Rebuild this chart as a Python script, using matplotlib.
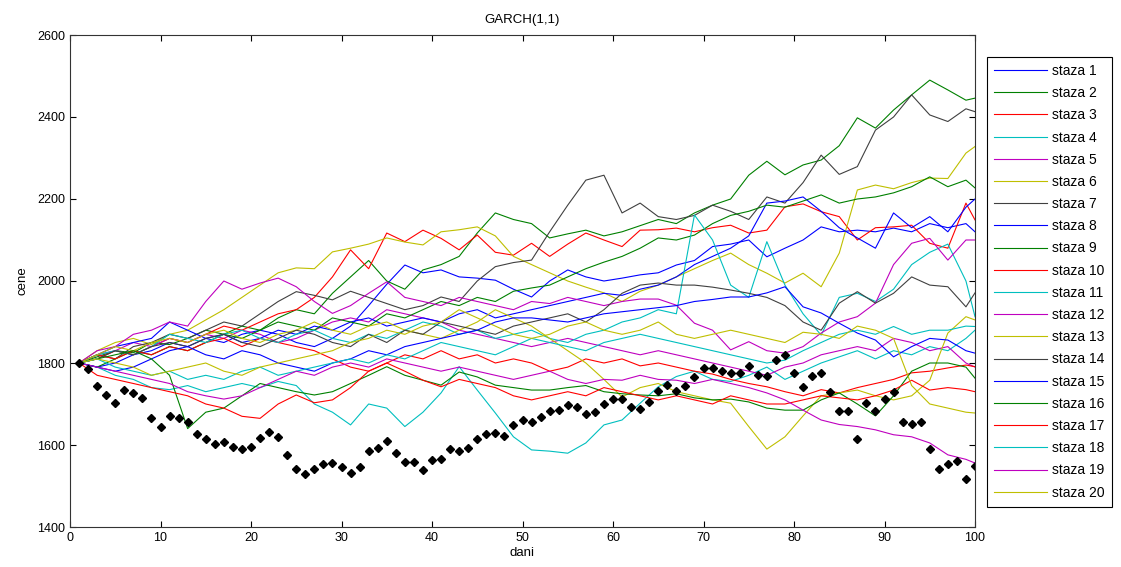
import matplotlib
matplotlib.use('Agg')
import matplotlib.pyplot as plt

plt.rcParams['font.family'] = ['Liberation Sans', 'DejaVu Sans']

# simulated paths sampled every 2 days (days 1,3,...,99,100)
days = list(range(1, 100, 2)) + [100]

staza_1 = [1800,1790,1800,1820,1830,1850,1840,1860,1850,1870,
           1880,1870,1850,1840,1860,1890,1940,1992,2039,2020,
           2027,2010,2007,2002,1980,1961,2000,2027,2010,2000,
           2007,2015,2020,2039,2050,2084,2090,2100,2059,2080,
           2100,2132,2120,2124,2120,2129,2120,2140,2130,2140,
           2120]
staza_2 = [1800,1815,1830,1825,1850,1845,1860,1880,1870,1890,
           1880,1910,1930,1920,1970,2010,2050,2000,1980,2027,
           2040,2060,2117,2166,2150,2140,2105,2115,2124,2110,
           2120,2135,2150,2140,2166,2185,2200,2258,2292,2259,
           2283,2295,2330,2398,2373,2417,2454,2490,2466,2441,
           2446]
staza_3 = [1800,1810,1830,1820,1840,1860,1850,1870,1890,1880,
           1900,1920,1930,1960,2010,2076,2030,2117,2096,2124,
           2104,2076,2112,2070,2063,2092,2060,2090,2117,2100,
           2084,2124,2125,2129,2120,2130,2136,2117,2124,2181,
           2188,2169,2157,2100,2130,2132,2136,2092,2080,2190,
           2149]
staza_4 = [1800,1790,1770,1760,1740,1735,1745,1730,1740,1750,
           1740,1755,1745,1700,1680,1649,1700,1690,1645,1680,
           1727,1791,1734,1678,1620,1588,1585,1580,1605,1649,
           1661,1702,1742,1767,1780,1760,1755,1770,1790,1760,
           1780,1800,1815,1830,1810,1830,1820,1840,1830,1860,
           1880]
staza_5 = [1800,1820,1830,1850,1840,1860,1850,1870,1860,1880,
           1870,1850,1860,1880,1900,1910,1900,1930,1920,1910,
           1900,1880,1870,1860,1850,1840,1850,1860,1850,1840,
           1830,1820,1830,1820,1810,1800,1790,1780,1770,1790,
           1800,1820,1830,1840,1830,1860,1850,1830,1840,1800,
           1790]
staza_6 = [1800,1830,1850,1860,1845,1870,1880,1905,1930,1960,
           1990,2020,2032,2030,2071,2080,2090,2105,2095,2088,
           2120,2125,2132,2110,2060,2040,2020,2000,1985,1971,
           1950,1975,1990,2010,2030,2050,2068,2040,2019,1995,
           2019,1986,2068,2222,2234,2225,2240,2251,2250,2312,
           2328]
staza_7 = [1800,1820,1810,1840,1850,1870,1860,1880,1900,1890,
           1920,1950,1974,1965,1954,1975,1960,1945,1930,1940,
           1961,1950,2000,2035,2045,2051,2120,2185,2246,2258,
           2166,2190,2157,2150,2160,2185,2170,2150,2205,2190,
           2240,2307,2260,2279,2368,2400,2454,2405,2389,2420,
           2413]
staza_8 = [1800,1820,1840,1850,1860,1900,1880,1860,1870,1850,
           1860,1880,1870,1890,1880,1900,1910,1890,1900,1910,
           1900,1920,1930,1910,1920,1930,1940,1950,1960,1970,
           1965,1980,1990,2010,2040,2060,2080,2110,2190,2195,
           2205,2170,2130,2105,2080,2166,2130,2157,2120,2180,
           2200]
staza_9 = [1800,1790,1810,1830,1820,1840,1830,1850,1870,1860,
           1880,1900,1890,1880,1910,1900,1890,1920,1910,1930,
           1950,1940,1960,1950,1975,1983,1990,2010,2030,2046,
           2060,2080,2105,2100,2112,2140,2160,2170,2185,2180,
           2195,2210,2190,2200,2205,2215,2230,2254,2230,2246,
           2227]
staza_10 = [1800,1820,1810,1830,1820,1840,1830,1850,1860,1840,
            1860,1850,1840,1830,1810,1790,1780,1800,1820,1810,
            1830,1810,1820,1800,1810,1800,1780,1790,1810,1800,
            1810,1793,1800,1790,1780,1773,1760,1750,1742,1730,
            1720,1735,1727,1740,1750,1760,1776,1780,1788,1795,
            1791]
staza_11 = [1800,1820,1830,1820,1840,1870,1860,1850,1870,1880,
            1860,1850,1870,1880,1860,1850,1870,1860,1880,1900,
            1890,1870,1880,1860,1870,1880,1860,1850,1870,1880,
            1900,1910,1930,1920,2161,2100,1990,1960,2096,1990,
            1920,1868,1960,1970,1950,1980,2040,2070,2090,2000,
            1913]
staza_12 = [1800,1830,1840,1870,1880,1900,1890,1950,2000,1980,
            1995,2007,1986,1950,1921,1940,1970,1998,1960,1950,
            1940,1960,1950,1940,1930,1950,1945,1960,1950,1940,
            1950,1956,1956,1941,1897,1880,1832,1852,1830,1824,
            1840,1873,1900,1913,1946,2040,2092,2104,2051,2100,
            2100]
staza_13 = [1800,1820,1840,1830,1850,1860,1850,1870,1880,1860,
            1850,1870,1880,1900,1880,1870,1890,1900,1880,1870,
            1860,1880,1900,1930,1910,1890,1860,1830,1800,1760,
            1717,1740,1750,1730,1720,1710,1702,1645,1590,1620,
            1671,1720,1727,1734,1720,1710,1720,1758,1873,1913,
            1905]
staza_14 = [1800,1810,1830,1820,1840,1850,1840,1860,1870,1850,
            1840,1860,1880,1870,1850,1840,1870,1850,1880,1870,
            1900,1890,1880,1870,1890,1900,1910,1920,1900,1930,
            1970,1990,1995,1990,1990,1985,1978,1970,1960,1940,
            1900,1880,1946,1974,1946,1970,2010,1990,1986,1937,
            1971]
staza_15 = [1800,1790,1780,1790,1810,1830,1840,1820,1810,1830,
            1820,1800,1790,1780,1800,1810,1830,1820,1840,1850,
            1860,1870,1880,1900,1910,1910,1905,1900,1910,1920,
            1925,1930,1935,1940,1950,1955,1961,1961,1971,1986,
            1937,1922,1897,1873,1856,1815,1840,1860,1856,1830,
            1824]
staza_16 = [1800,1810,1820,1830,1810,1770,1640,1680,1690,1720,
            1750,1740,1730,1722,1730,1750,1770,1791,1770,1758,
            1746,1778,1766,1746,1740,1734,1734,1740,1745,1730,
            1725,1722,1720,1725,1715,1710,1712,1705,1690,1685,
            1685,1710,1727,1700,1671,1720,1780,1800,1800,1790,
            1763]
staza_17 = [1800,1770,1760,1750,1740,1730,1720,1700,1690,1670,
            1665,1700,1722,1703,1710,1740,1780,1800,1780,1758,
            1742,1760,1750,1740,1720,1710,1720,1730,1720,1740,
            1730,1720,1710,1720,1710,1700,1720,1710,1700,1700,
            1710,1720,1715,1710,1720,1734,1758,1734,1740,1735,
            1730]
staza_18 = [1800,1810,1790,1780,1770,1780,1760,1770,1760,1780,
            1790,1770,1780,1790,1800,1810,1800,1820,1810,1830,
            1850,1840,1830,1820,1840,1860,1850,1840,1830,1850,
            1860,1870,1860,1850,1840,1830,1820,1810,1800,1807,
            1830,1850,1870,1880,1870,1889,1870,1880,1880,1890,
            1889]
staza_19 = [1800,1790,1780,1770,1760,1750,1730,1720,1712,1720,
            1740,1760,1780,1770,1790,1800,1790,1810,1800,1790,
            1780,1790,1780,1770,1760,1770,1780,1760,1750,1760,
            1758,1770,1760,1758,1750,1760,1750,1740,1727,1710,
            1685,1661,1650,1645,1637,1625,1620,1605,1576,1565,
            1556]
staza_20 = [1800,1810,1800,1790,1770,1780,1790,1800,1780,1770,
            1790,1800,1810,1820,1830,1850,1860,1880,1870,1890,
            1900,1930,1910,1890,1870,1860,1870,1890,1900,1880,
            1870,1880,1900,1870,1860,1870,1880,1870,1860,1850,
            1875,1870,1860,1890,1880,1860,1745,1700,1690,1680,
            1678]

# observed prices (black diamonds), days 1..100
price_days = list(range(1, 101))
prices = [1800,1785,1744,1721,1703,1735,1727,1715,1666,1643,
          1671,1666,1657,1628,1614,1602,1608,1596,1590,1596,
          1616,1631,1620,1576,1542,1529,1542,1554,1556,1547,
          1532,1547,1585,1593,1609,1581,1559,1559,1539,1563,
          1566,1591,1585,1593,1614,1628,1629,1623,1648,1660,
          1655,1669,1684,1686,1697,1693,1675,1680,1700,1711,
          1712,1692,1689,1704,1732,1747,1732,1743,1767,1787,
          1787,1781,1776,1776,1793,1770,1768,1807,1820,1776,
          1741,1768,1776,1730,1684,1684,1615,1702,1684,1712,
          1730,1657,1651,1657,1591,1541,1554,1562,1518,1550]

labels = ['staza %d' % i for i in range(1, 21)]
series = [staza_1, staza_2, staza_3, staza_4, staza_5, staza_6, staza_7,
          staza_8, staza_9, staza_10, staza_11, staza_12, staza_13, staza_14,
          staza_15, staza_16, staza_17, staza_18, staza_19, staza_20]

colors = [(0, 0, 1), (0, 0.5, 0), (1, 0, 0), (0, 0.75, 0.75),
          (0.75, 0, 0.75), (0.75, 0.75, 0), (0.25, 0.25, 0.25)]

fig = plt.figure(figsize=(11.21, 5.67), dpi=100)
ax = fig.add_axes([70/1121, 40/567, 905/1121, 492/567])

for i, s in enumerate(series):
    ax.plot(days, s, color=colors[i % 7], lw=0.8, label=labels[i])
ax.plot(price_days, prices, linestyle='none', marker='D', color='black',
        markersize=3.6)

ax.set_xlim(0, 100)
ax.set_ylim(1400, 2600)
ax.set_xticks(range(0, 101, 10))
ax.set_yticks(range(1400, 2601, 200))
ax.tick_params(direction='in', top=True, right=True, length=4,
               labelsize=9, colors='black')
for sp in ax.spines.values():
    sp.set_linewidth(0.8)
    sp.set_color('#333333')
ax.set_title('GARCH(1,1)', fontsize=9.5, pad=9)
ax.set_xlabel('dani', fontsize=9.5, labelpad=2)
ax.set_ylabel('cene', fontsize=9.5, labelpad=6)

leg = ax.legend(loc='upper left', bbox_to_anchor=(987/1121, 510/567),
                bbox_transform=fig.transFigure, fancybox=False,
                edgecolor='black', framealpha=1, fontsize=10,
                handlelength=3.8, handletextpad=0.4, labelspacing=0.59,
                borderaxespad=0, borderpad=0.5)
leg.get_frame().set_linewidth(0.8)

fig.savefig('out.png', dpi=100)
